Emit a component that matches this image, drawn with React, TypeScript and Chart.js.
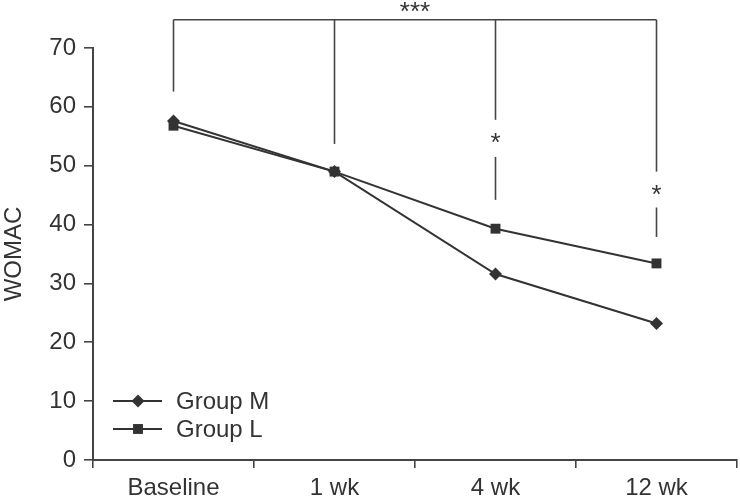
import React, { useEffect, useRef } from "react";
import { Chart, registerables } from "chart.js";

Chart.register(...registerables);

const categories = ["Baseline", "1 wk", "4 wk", "12 wk"];
const groupM = [57.6, 49.0, 31.6, 23.2];
const groupL = [56.8, 49.0, 39.3, 33.4];
const yTicks = [0, 10, 20, 30, 40, 50, 60, 70];

// significance annotations in data units
const bracketTop = 74.8;
const bracketDrops = [
  { idx: 0, segments: [[74.8, 62.6]], star: null as number | null },
  { idx: 1, segments: [[74.8, 53.7]], star: null as number | null },
  { idx: 2, segments: [[74.8, 57.8], [51.5, 44.2]], star: 54.7 },
  { idx: 3, segments: [[74.8, 49.0], [42.9, 37.9]], star: 45.9 },
];

const INK = "#333333";
const FONT = "'Liberation Sans', Arial, Helvetica, sans-serif";

const annotationPlugin = {
  id: "annot",
  afterDraw(chart: any) {
    const ctx = chart.ctx;
    const xs = chart.scales.x;
    const ys = chart.scales.y;
    ctx.save();
    ctx.strokeStyle = "#444";
    ctx.lineWidth = 1.6;
    const x0 = xs.getPixelForValue(0);
    const x3 = xs.getPixelForValue(3);
    const yt = ys.getPixelForValue(bracketTop);
    ctx.beginPath();
    ctx.moveTo(x0, yt);
    ctx.lineTo(x3, yt);
    ctx.stroke();
    ctx.fillStyle = INK;
    ctx.font = `26px ${FONT}`;
    ctx.textAlign = "center";
    ctx.textBaseline = "middle";
    for (const d of bracketDrops) {
      const x = xs.getPixelForValue(d.idx);
      for (const [a, b] of d.segments) {
        ctx.beginPath();
        ctx.moveTo(x, ys.getPixelForValue(a));
        ctx.lineTo(x, ys.getPixelForValue(b));
        ctx.stroke();
      }
      if (d.star !== null) {
        ctx.fillText("*", x, ys.getPixelForValue(d.star) + 6);
      }
    }
    ctx.fillText("***", (xs.getPixelForValue(1) + xs.getPixelForValue(2)) / 2, yt - 7);

    // legend
    const ca = chart.chartArea;
    const lx = ca.left + 20;
    const items = [
      { label: "Group M", style: "rectRot", r: 6.5 },
      { label: "Group L", style: "rect", r: 7 },
    ];
    ctx.font = `24px ${FONT}`;
    items.forEach((it, i) => {
      const y = ca.bottom - 59 + i * 28;
      ctx.strokeStyle = INK;
      ctx.lineWidth = 2;
      ctx.beginPath();
      ctx.moveTo(lx, y);
      ctx.lineTo(lx + 49, y);
      ctx.stroke();
      ctx.fillStyle = INK;
      ctx.beginPath();
      if (it.style === "rectRot") {
        const cx = lx + 25;
        ctx.moveTo(cx, y - it.r);
        ctx.lineTo(cx + it.r, y);
        ctx.lineTo(cx, y + it.r);
        ctx.lineTo(cx - it.r, y);
        ctx.closePath();
      } else {
        const s = it.r * Math.SQRT1_2;
        ctx.rect(lx + 25 - s, y - s, 2 * s, 2 * s);
      }
      ctx.fill();
      ctx.textAlign = "left";
      ctx.textBaseline = "middle";
      ctx.fillText(it.label, lx + 63, y + 1);
    });
    ctx.restore();
  },
};

export default function App() {
  const ref = useRef<HTMLCanvasElement | null>(null);
  useEffect(() => {
    document.body.style.margin = "0";
    const canvas = ref.current!;
    const chart = new Chart(canvas, {
      type: "line",
      data: {
        labels: categories,
        datasets: [
          {
            label: "Group M",
            data: groupM,
            borderColor: INK,
            backgroundColor: INK,
            borderWidth: 2,
            pointStyle: "rectRot",
            pointRadius: 6.5,
            pointBackgroundColor: INK,
            pointBorderWidth: 0,
          },
          {
            label: "Group L",
            data: groupL,
            borderColor: INK,
            backgroundColor: INK,
            borderWidth: 2,
            pointStyle: "rect",
            pointRadius: 7,
            pointBackgroundColor: INK,
            pointBorderWidth: 0,
          },
        ],
      },
      options: {
        responsive: false,
        animation: false,
        layout: { autoPadding: false, padding: { top: 48, right: 3, left: 0, bottom: 0 } },
        plugins: { legend: { display: false }, tooltip: { enabled: false } },
        scales: {
          x: {
            type: "category",
            offset: true,
            grid: {
              offset: true,
              drawOnChartArea: false,
              drawTicks: true,
              tickLength: 8,
              color: "#444",
              lineWidth: 1.6,
            },
            border: { display: true, color: "#444", width: 2 },
            ticks: { color: INK, font: { size: 24, family: FONT }, padding: 6 },
            afterFit(scale: any) {
              scale.height = 39;
            },
          },
          y: {
            min: 0,
            max: 70,
            afterBuildTicks(scale: any) {
              scale.ticks = yTicks.map((v) => ({ value: v }));
            },
            grid: {
              drawOnChartArea: false,
              drawTicks: true,
              tickLength: 9,
              color: "#444",
              lineWidth: 1.6,
            },
            border: { display: true, color: "#444", width: 2 },
            ticks: { color: INK, font: { size: 24, family: FONT }, padding: 8 },
            title: {
              display: true,
              text: "WOMAC",
              color: INK,
              font: { size: 24, family: FONT },
              padding: { top: 0, bottom: 0 },
            },
            afterFit(scale: any) {
              scale.width = 93;
            },
          },
        },
      },
      plugins: [annotationPlugin],
    });
    return () => chart.destroy();
  }, []);
  return (
    <canvas ref={ref} width={740} height={499} style={{ display: "block" }} />
  );
}
